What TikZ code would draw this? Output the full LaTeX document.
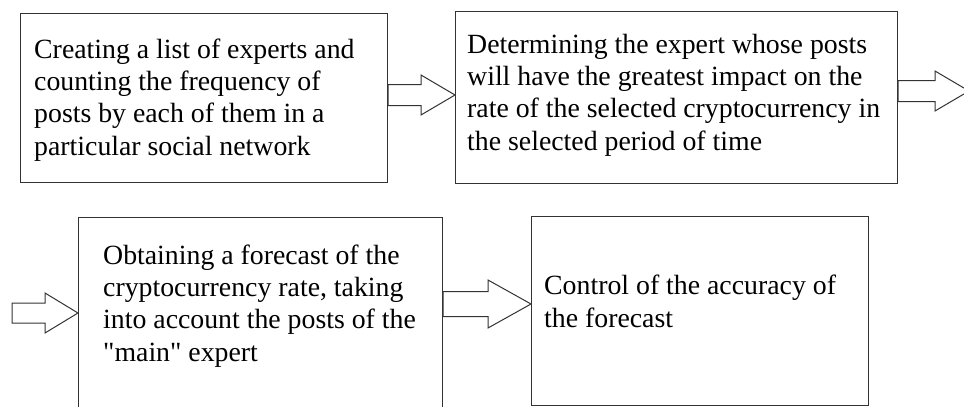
\documentclass[tikz,border=0pt]{standalone}
\usepackage{fontspec}
\setmainfont{Liberation Serif}[Ligatures=TeXOff]
\usetikzlibrary{calc}
\tikzset{
  stage/.style     = {draw=black!80, line width=1.2pt, rectangle, anchor=north west,
                      inner sep=0pt},
  stagetext/.style = {anchor=base west, align=left, inner sep=0pt,
                      font=\fontsize{27.8}{32.3}\selectfont},
  flow/.style      = {draw=black!80, line width=1pt, fill=white, line join=miter},
}
% hollow block arrow: tail, tip, shaft half width, head half width, head length
\newcommand{\fatarrow}[5]{%
  \draw[flow] ($(#1 |- #2)+(0,-#3)$) -- ($(#2)+(-#5,-#3)$) -- ($(#2)+(-#5,-#4)$) -- (#2)
    -- ($(#2)+(-#5,#4)$) -- ($(#2)+(-#5,#3)$) -- ($(#1 |- #2)+(0,#3)$) -- cycle;}

\begin{document}
\begin{tikzpicture}[x=1pt,y=-1pt]
\path[use as bounding box, clip] (0,0) rectangle (964,407);
% ---- first row (text anchored at its last baseline) ----
\node[stage, minimum width=367pt, minimum height=169pt] (list) at (20,13) {};
\node[stage, minimum width=442pt, minimum height=172pt] (impact) at (455,11) {};
\node[stagetext] (listtext) at ($(list.north west)+(14,142)$)
  {Creating a list of experts and\\counting the frequency of\\posts by each of them in a\\particular social network};
\node[stagetext] (impacttext) at ($(impact.north west)+(12,139)$)
  {Determining the expert whose posts\\will have the greatest impact on the\\rate of the selected cryptocurrency in\\the selected period of time};
% ---- second row ----
\node[stage, minimum width=364pt, minimum height=193pt] (forecast) at (78,217) {};
\node[stage, minimum width=337pt, minimum height=189pt] (control) at (531,216) {};
\node[stagetext] (forecasttext) at ($(forecast.north west)+(25,144)$)
  {Obtaining a forecast of the\\cryptocurrency rate, taking\\into account the posts of the\\"main" expert};
\node[stagetext] (controltext) at ($(control.north west)+(13,111)$)
  {Control of the accuracy of\\the forecast};
% ---- arrows ----
\coordinate (tip1) at (impact.west |- 0,95);
\fatarrow{list.east}{tip1}{10.5}{20}{34}
\coordinate (tip2) at (969,91);
\fatarrow{impact.east}{tip2}{10.5}{20}{34}
\coordinate (tail3) at (12,313);
\coordinate (tip3) at (forecast.west |- tail3);
\fatarrow{tail3}{tip3}{10}{20}{33}
\coordinate (tip4) at (control.west |- 0,304);
\fatarrow{forecast.east}{tip4}{12.5}{24}{43}
\end{tikzpicture}
\end{document}
